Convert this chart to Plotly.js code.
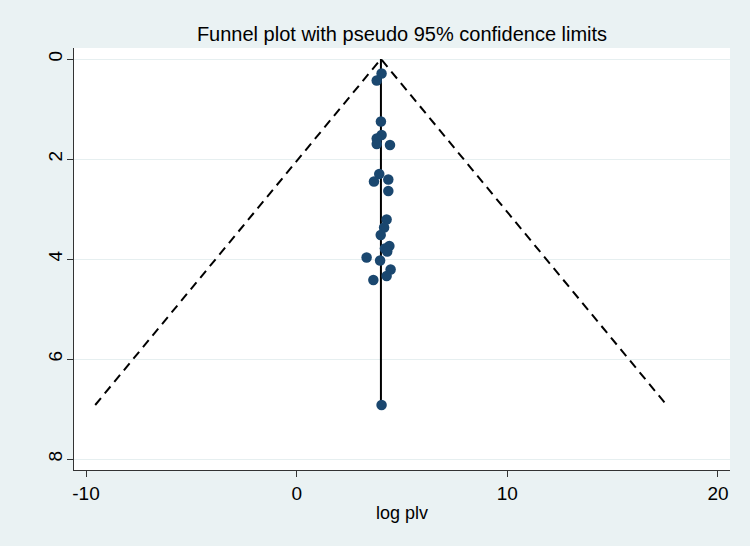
<!DOCTYPE html>
<html>
<head>
<meta charset="utf-8">
<script src="https://cdn.plot.ly/plotly-3.0.1.min.js"></script>
<style>html,body{margin:0;padding:0;background:#eaf2f3;}#chart{width:750px;height:546px;}</style>
</head>
<body>
<div id="chart"></div>
<script>
// Study estimates: log plv and its standard error
const logPlv = [4.03, 3.80, 4.00, 4.03, 3.80, 3.80, 4.43, 3.92, 3.67, 4.35, 4.35, 4.27, 4.15, 3.99, 4.40, 4.19, 4.30, 3.32, 3.96, 4.46, 4.27, 3.64, 4.03];
const seLogPlv = [0.29, 0.43, 1.25, 1.52, 1.59, 1.70, 1.72, 2.30, 2.45, 2.41, 2.64, 3.21, 3.37, 3.52, 3.74, 3.79, 3.85, 3.97, 4.03, 4.21, 4.34, 4.42, 6.92];
// Pooled estimate and pseudo 95% limits
const pooled = 4.0;
const maxSe = 6.92;
const z = 1.96;

const xTicks = [-10, 0, 10, 20];
const yTicks = [0, 2, 4, 6, 8];

const funnelX = [pooled - z * maxSe, pooled, pooled + z * maxSe];
const funnelY = [maxSe, 0, maxSe];

const font = "Liberation Sans, Arial, sans-serif";

const traces = [
  {x: funnelX, y: funnelY, mode: 'lines', type: 'scatter',
   line: {color: '#000000', width: 2, dash: '9px,6px'}, hoverinfo: 'skip'},
  {x: [pooled, pooled], y: [0, maxSe], mode: 'lines', type: 'scatter',
   line: {color: '#000000', width: 2}, hoverinfo: 'skip'},
  {x: logPlv, y: seLogPlv, mode: 'markers', type: 'scatter',
   marker: {color: '#1a476f', size: 10.5}}
];

const layout = {
  width: 750, height: 546,
  paper_bgcolor: '#eaf2f3', plot_bgcolor: '#ffffff',
  showlegend: false,
  margin: {l: 74, r: 20, t: 48, b: 76},
  font: {family: font, color: '#000000'},
  title: {text: 'Funnel plot with pseudo 95% confidence limits', font: {family: font, size: 20, color: '#000000'},
          x: 0.536, xanchor: 'center', yref: 'container', y: 1 - 34/546, yanchor: 'middle'},
  xaxis: {range: [-10.57, 20.57], tickvals: xTicks, ticktext: xTicks.map(String),
          showgrid: false, zeroline: false, showline: true, linecolor: '#333333', linewidth: 1,
          ticks: 'outside', ticklen: 6, tickcolor: '#333333', tickfont: {size: 19},
          title: {text: 'log plv', font: {size: 18}, standoff: 3}},
  yaxis: {range: [8.22, -0.22], tickvals: yTicks, ticktext: yTicks.map(String),
          showgrid: true, gridcolor: '#e6eff0', gridwidth: 1, zeroline: false,
          showline: true, linecolor: '#333333', linewidth: 1,
          ticks: 'outside', ticklen: 6, tickcolor: '#333333', tickfont: {size: 19}, tickangle: -90,
          ticklabelstandoff: -3}
};

Plotly.newPlot('chart', traces, layout, {displayModeBar: false, staticPlot: true});
</script>
</body>
</html>
